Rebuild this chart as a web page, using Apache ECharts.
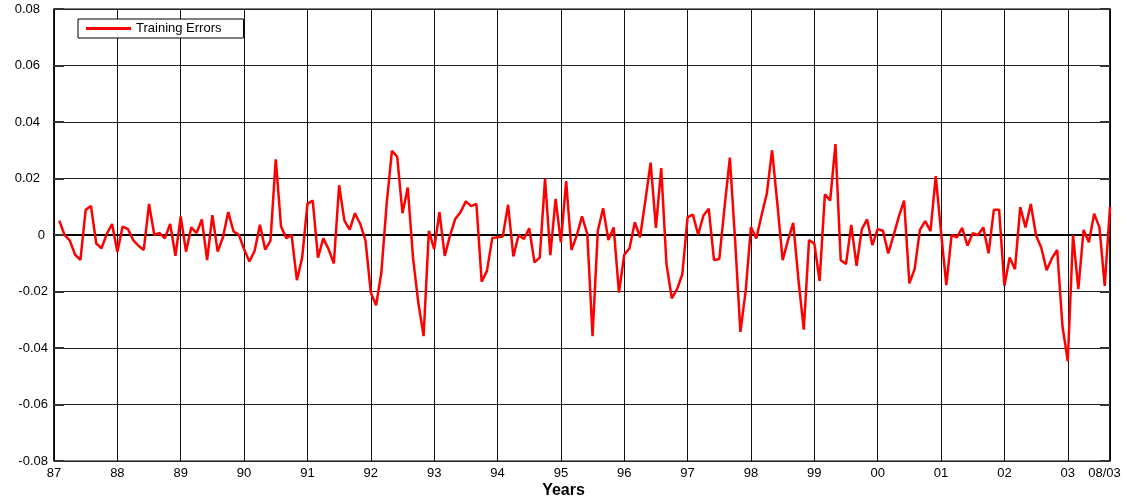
<!DOCTYPE html>
<html>
<head>
<meta charset="utf-8">
<script src="https://cdn.jsdelivr.net/npm/echarts@6/dist/echarts.min.js"></script>
<style>
html,body{margin:0;padding:0;background:#fff;}
#chart{width:1127px;height:502px;}
</style>
</head>
<body>
<div id="chart"></div>
<script>
// Month index 0 = Jan 1987; data start at month 1 (Feb 1987), end at month 200 (Aug 2003)
var startMonth = 1;
var values = [
 0.0051, 0.0, -0.0020, -0.0070, -0.0088, 0.0089, 0.0103, -0.0030, -0.0047, 0.0004,
 0.0039, -0.0059, 0.0030, 0.0021, -0.0018, -0.0038, -0.0053, 0.0110, 0.0, 0.0007,
 -0.0012, 0.0039, -0.0074, 0.0066, -0.0059, 0.0027, 0.0007, 0.0055, -0.0089, 0.0070,
 -0.0059, -0.0008, 0.0081, 0.0013, 0.0001, -0.0050, -0.0094, -0.0056, 0.0036, -0.0052,
 -0.0020, 0.0268, 0.0030, -0.0011, 0.0, -0.0160, -0.0080, 0.0110, 0.0122, -0.0080,
 -0.0012, -0.0050, -0.0101, 0.0176, 0.0051, 0.0019, 0.0077, 0.0039, -0.0020, -0.0204,
 -0.0249, -0.0133, 0.0110, 0.0298, 0.0277, 0.0077, 0.0168, -0.0081, -0.0240, -0.0358,
 0.0015, -0.0050, 0.0081, -0.0074, -0.0002, 0.0057, 0.0081, 0.0119, 0.0102, 0.0110,
 -0.0165, -0.0127, -0.0011, -0.0008, -0.0005, 0.0107, -0.0076, 0.0, -0.0014, 0.0024,
 -0.0097, -0.0080, 0.0199, -0.0071, 0.0128, -0.0026, 0.0191, -0.0053, -0.0002, 0.0066,
 0.0004, -0.0358, 0.0015, 0.0095, -0.0018, 0.0027, -0.0204, -0.0070, -0.0047, 0.0045,
 -0.0008, 0.0122, 0.0256, 0.0025, 0.0237, -0.0103, -0.0224, -0.0192, -0.0139, 0.0063,
 0.0072, 0.0001, 0.0069, 0.0093, -0.0089, -0.0085, 0.0099, 0.0274, -0.0020, -0.0343,
 -0.0198, 0.0028, -0.0012, 0.0069, 0.0146, 0.0300, 0.0110, -0.0089, -0.0020, 0.0043,
 -0.0160, -0.0335, -0.0018, -0.0030, -0.0163, 0.0144, 0.0122, 0.0322, -0.0089, -0.0103,
 0.0036, -0.0109, 0.0021, 0.0055, -0.0036, 0.0021, 0.0015, -0.0065, -0.0002, 0.0065,
 0.0122, -0.0171, -0.0121, 0.0018, 0.0049, 0.0014, 0.0208, 0.0010, -0.0177, 0.0,
 -0.0008, 0.0025, -0.0038, 0.0006, 0.0, 0.0027, -0.0065, 0.0089, 0.0089, -0.0180,
 -0.0080, -0.0121, 0.0099, 0.0027, 0.0110, -0.0002, -0.0046, -0.0125, -0.0082, -0.0053,
 -0.0323, -0.0447, 0.0, -0.0192, 0.0018, -0.0026, 0.0075, 0.0027, -0.0180, 0.0099
];
var xTickLabels = ['87','88','89','90','91','92','93','94','95','96','97','98','99','00','01','02','03'];
var xEndLabel = '08/03';
var xMax = 200;
var yTicks = [-0.08, -0.06, -0.04, -0.02, 0, 0.02, 0.04, 0.06, 0.08];

var seriesData = values.map(function (v, i) { return [i + startMonth, v]; });

var chart = echarts.init(document.getElementById('chart'), null, {renderer: 'canvas'});
var font = '"Liberation Sans", Arial, Helvetica, sans-serif';
chart.setOption({
  animation: false,
  backgroundColor: '#ffffff',
  title: {
    text: 'Years', left: 'center', top: 483, padding: 0,
    textStyle: {fontFamily: font, fontSize: 16, fontWeight: 'bold', color: '#000'}
  },
  legend: {
    left: 78, top: 19,
    orient: 'horizontal',
    data: ['Training Errors'],
    icon: 'rect',
    itemWidth: 45, itemHeight: 3,
    padding: [3, 22, 3, 8],
    borderColor: '#000', borderWidth: 1, borderRadius: 0,
    backgroundColor: '#fff',
    textStyle: {fontFamily: font, fontSize: 13, color: '#000'}
  },
  grid: {
    left: 54, right: 17, top: 9, bottom: 41,
    show: true, borderColor: '#000', borderWidth: 1, backgroundColor: '#fff'
  },
  xAxis: {
    type: 'value', min: 0, max: xMax, interval: 12,
    axisLine: {show: true, lineStyle: {color: '#000', width: 2}},
    axisTick: {show: false},
    splitLine: {show: true, lineStyle: {color: '#111', width: 1}},
    axisLabel: {
      showMaxLabel: true, showMinLabel: true,
      margin: 6, color: '#000', fontFamily: font, fontSize: 13,
      formatter: function (v) {
        if (v >= xMax) return '{e|' + xEndLabel + '}';
        var k = Math.round(v / 12);
        return xTickLabels[k] !== undefined ? xTickLabels[k] : '';
      },
      rich: {
        e: {fontFamily: font, fontSize: 13, color: '#000', padding: [0, 11, 0, 0]}
      }
    }
  },
  yAxis: [{
    type: 'value', min: yTicks[0], max: yTicks[yTicks.length - 1], interval: 0.02,
    axisLine: {show: true, lineStyle: {color: '#000', width: 1.5}},
    axisTick: {show: true, inside: true, length: 10, lineStyle: {color: '#333', width: 2}},
    splitLine: {show: true, lineStyle: {color: '#222', width: 1}},
    axisLabel: {
      margin: 6, color: '#000', fontFamily: font, fontSize: 13,
      formatter: function (v) {
        if (Math.abs(v) < 1e-9) return '{z|0}';
        if (v > 0) return '{p|' + v.toFixed(2) + '}';
        return '{n|' + v.toFixed(2) + '}';
      },
      rich: {
        p: {fontFamily: font, fontSize: 13, color: '#000', padding: [0, 8, 0, 0]},
        z: {fontFamily: font, fontSize: 13, color: '#000', padding: [0, 3, 0, 0]},
        n: {fontFamily: font, fontSize: 13, color: '#000', padding: [0, 0, 0, 0]}
      }
    }
  }, {
    type: 'value', position: 'right', min: yTicks[0], max: yTicks[yTicks.length - 1], interval: 0.02,
    axisLine: {show: true, lineStyle: {color: '#000', width: 1.5}},
    axisTick: {show: true, inside: true, length: 10, lineStyle: {color: '#333', width: 2}},
    splitLine: {show: false},
    axisLabel: {show: false}
  }],
  series: [{
    name: 'Training Errors',
    type: 'line',
    data: seriesData,
    showSymbol: false,
    symbol: 'none',
    lineStyle: {color: '#ff0000', width: 2.5},
    itemStyle: {color: '#ff0000'},
    z: 5
  }]
});
</script>
</body>
</html>
